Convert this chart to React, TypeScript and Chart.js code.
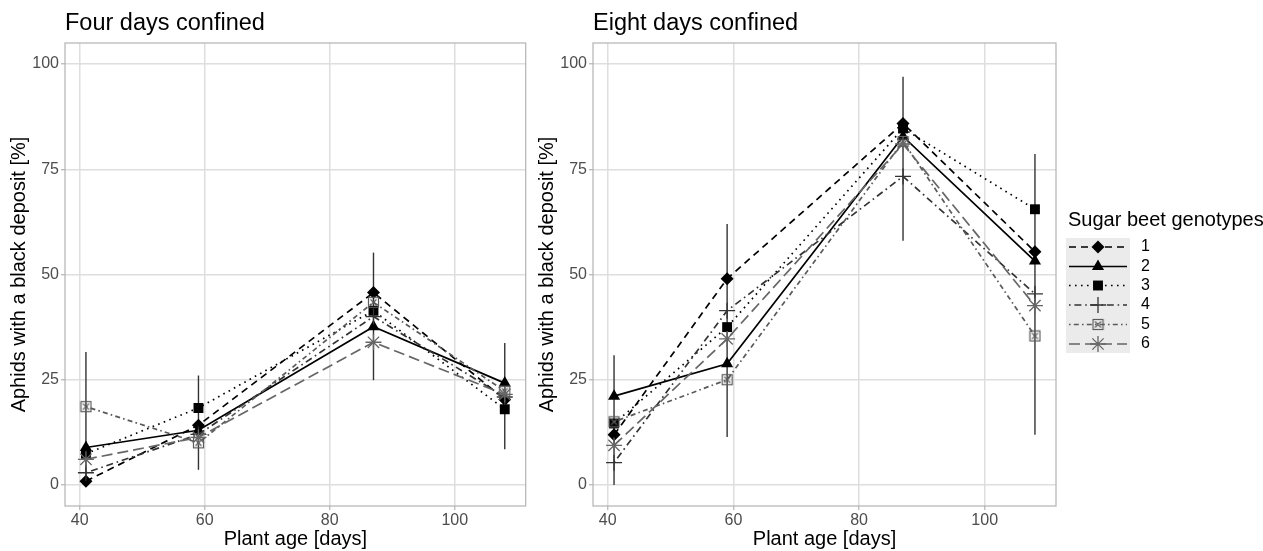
import React, { useEffect, useRef } from 'react';
import { Chart, registerables } from 'chart.js';
import { drawPoint } from 'chart.js/helpers';

Chart.register(...registerables);

// ---------- data ----------
const plantAge = [41, 59, 87, 108];
const xTicks = [40, 60, 80, 100];
const yTicks = [0, 25, 50, 75, 100];
const genotypes = ['1', '2', '3', '4', '5', '6'];

// Four days confined
const four1 = [0.9, 14.2, 45.7, 20.3];
const four2 = [8.9, 13.0, 37.6, 24.2];
const four3 = [7.4, 18.3, 41.4, 18.0];
const four4 = [2.9, 12.0, 40.0, 20.9];
const four5 = [18.6, 10.0, 43.4, 22.3];
const four6 = [6.1, 11.3, 33.9, 21.5];
const fourErrLow = [0, 3.6, 24.9, 8.5];
const fourErrHigh = [31.6, 26.0, 55.2, 33.7];

// Eight days confined
const eight1 = [11.9, 49.0, 85.9, 55.4];
const eight2 = [21.1, 28.8, 82.8, 53.2];
const eight3 = [14.6, 37.5, 84.7, 65.5];
const eight4 = [5.3, 41.4, 73.3, 45.4];
const eight5 = [15.0, 25.0, 81.6, 35.4];
const eight6 = [9.4, 34.7, 81.0, 42.6];
const eightErrLow = [0, 11.4, 58.0, 11.9];
const eightErrHigh = [30.8, 62.0, 97.0, 78.6];

// ---------- styles ----------
const FONT = "'Liberation Sans', Arial, Helvetica, sans-serif";
const lineColors = ['#000000', '#000000', '#000000', '#333333', '#5a5a5a', '#666666'];
const lineDashes: number[][] = [[7, 5], [], [1.6, 4.4], [1.6, 3.8, 7, 3.8], [1.6, 3.2, 5, 3.2], [11, 5]];
const pointKinds = ['rectRot', 'triangle', 'rect', 'cross', 'boxX', 'star'];
const pointRadii = [6.5, 7, 7, 8, 6, 8];

function makeBoxX(color: string): HTMLCanvasElement {
  const c = document.createElement('canvas');
  c.width = 13;
  c.height = 13;
  const g = c.getContext('2d')!;
  g.strokeStyle = color;
  g.lineWidth = 1.2;
  g.strokeRect(1.5, 1.5, 10, 10);
  g.beginPath();
  g.moveTo(3.5, 3.5);
  g.lineTo(9.5, 9.5);
  g.moveTo(9.5, 3.5);
  g.lineTo(3.5, 9.5);
  g.stroke();
  return c;
}

function pointStyleFor(i: number, boxX: HTMLCanvasElement): any {
  return pointKinds[i] === 'boxX' ? boxX : pointKinds[i];
}

function buildDatasets(series: number[][], boxX: HTMLCanvasElement) {
  return series.map((vals, i) => ({
    label: genotypes[i],
    order: series.length - i,
    data: vals.map((v, j) => ({ x: plantAge[j], y: v })),
    borderColor: lineColors[i],
    backgroundColor: lineColors[i],
    borderWidth: 1.7,
    borderDash: lineDashes[i],
    pointStyle: pointStyleFor(i, boxX),
    pointRadius: pointRadii[i],
    pointBackgroundColor: lineColors[i],
    pointBorderColor: lineColors[i],
    pointBorderWidth: pointKinds[i] === 'cross' || pointKinds[i] === 'star' ? 1.3 : 0,
    tension: 0,
    fill: false,
    showLine: true,
  }));
}

interface PanelProps {
  title: string;
  series: number[][];
  errLow: number[];
  errHigh: number[];
  width: number;
  left: number;
  rightPad: number;
  legend: boolean;
}

function Panel({ title, series, errLow, errHigh, width, left, rightPad, legend }: PanelProps) {
  const ref = useRef<HTMLCanvasElement | null>(null);

  useEffect(() => {
    const canvas = ref.current!;
    const boxX = makeBoxX('#5a5a5a');

    const framePlugin = {
      id: 'frame',
      beforeDatasetsDraw(chart: any) {
        const { ctx, chartArea, scales } = chart;
        ctx.save();
        ctx.strokeStyle = '#b3b3b3';
        ctx.lineWidth = 1.2;
        ctx.strokeRect(chartArea.left, chartArea.top, chartArea.right - chartArea.left, chartArea.bottom - chartArea.top);
        ctx.strokeStyle = '#333333';
        ctx.lineWidth = 1.4;
        plantAge.forEach((a, j) => {
          const x = scales.x.getPixelForValue(a);
          ctx.beginPath();
          ctx.moveTo(x, scales.y.getPixelForValue(errLow[j]));
          ctx.lineTo(x, scales.y.getPixelForValue(errHigh[j]));
          ctx.stroke();
        });
        ctx.restore();
      },
      afterDraw(chart: any) {
        const { ctx, chartArea } = chart;
        ctx.save();
        ctx.fillStyle = '#000';
        ctx.font = `23.5px ${FONT}`;
        ctx.textAlign = 'left';
        ctx.textBaseline = 'alphabetic';
        ctx.fillText(title, chartArea.left, 30);
        if (legend) {
          const lx = chartArea.right + 10;
          ctx.font = `20px ${FONT}`;
          ctx.textBaseline = 'middle';
          ctx.fillText('Sugar beet genotypes', lx + 2, 220);
          ctx.fillStyle = '#ebebeb';
          ctx.fillRect(lx, 238, 64, 115);
          const rowY = [247, 266.5, 285.5, 305, 324.5, 344];
          genotypes.forEach((g, i) => {
            const y = rowY[i];
            ctx.save();
            ctx.strokeStyle = lineColors[i];
            ctx.lineWidth = 1.7;
            ctx.setLineDash(lineDashes[i]);
            ctx.beginPath();
            ctx.moveTo(lx + 3, y);
            ctx.lineTo(lx + 61, y);
            ctx.stroke();
            ctx.setLineDash([]);
            ctx.fillStyle = lineColors[i];
            ctx.strokeStyle = lineColors[i];
            ctx.lineWidth = 1.3;
            drawPoint(ctx, {
              pointStyle: pointStyleFor(i, boxX),
              radius: pointRadii[i],
              rotation: 0,
              borderWidth: pointKinds[i] === 'cross' || pointKinds[i] === 'star' ? 1.3 : 0,
            } as any, lx + 32, y);
            ctx.restore();
            ctx.fillStyle = '#000';
            ctx.font = `16px ${FONT}`;
            ctx.textAlign = 'left';
            ctx.fillText(g, lx + 75, y);
          });
        }
        ctx.restore();
      },
    };

    const chart = new Chart(canvas, {
      type: 'line',
      data: { datasets: buildDatasets(series, boxX) as any },
      options: {
        animation: false,
        responsive: false,
        devicePixelRatio: 1,
        layout: { padding: { top: 43, right: rightPad, left: 0, bottom: 0 } },
        plugins: {
          legend: { display: false },
          tooltip: { enabled: false },
          title: { display: false },
        },
        scales: {
          x: {
            type: 'linear',
            min: 37.65,
            max: 111.35,
            afterBuildTicks: (s: any) => {
              s.ticks = xTicks.map((v) => ({ value: v }));
            },
            afterFit: (s: any) => {
              s.height = 45;
            },
            border: { display: false },
            grid: { color: '#dedede', lineWidth: 1.5, tickColor: '#b3b3b3', tickLength: 4, tickWidth: 1.2 },
            ticks: { font: { family: FONT, size: 16 }, color: '#4d4d4d', padding: 1, maxRotation: 0, autoSkip: false },
            title: {
              display: true,
              text: 'Plant age [days]',
              font: { family: FONT, size: 20 },
              color: '#000',
              padding: { top: 0, bottom: 0 },
            },
          },
          y: {
            type: 'linear',
            min: -5,
            max: 105,
            afterBuildTicks: (s: any) => {
              s.ticks = yTicks.map((v) => ({ value: v }));
            },
            afterFit: (s: any) => {
              s.width = 65;
            },
            border: { display: false },
            grid: { color: '#dedede', lineWidth: 1.5, tickColor: '#b3b3b3', tickLength: 4, tickWidth: 1.2 },
            ticks: { font: { family: FONT, size: 16 }, color: '#4d4d4d', padding: 2, autoSkip: false },
            title: {
              display: true,
              text: 'Aphids with a black deposit [%]',
              font: { family: FONT, size: 20 },
              color: '#000',
              padding: { top: 7, bottom: 0 },
            },
          },
        },
      } as any,
      plugins: [framePlugin],
    });
    return () => chart.destroy();
  }, []);

  return (
    <canvas
      ref={ref}
      width={width}
      height={551}
      style={{ position: 'absolute', left, top: 0, width, height: 551 }}
    />
  );
}

export default function App() {
  return (
    <div style={{ position: 'fixed', left: 0, top: 0, width: 1263, height: 551, background: '#fff' }}>
      <Panel
        title="Four days confined"
        series={[four1, four2, four3, four4, four5, four6]}
        errLow={fourErrLow}
        errHigh={fourErrHigh}
        width={535}
        left={0}
        rightPad={3}
        legend={false}
      />
      <Panel
        title="Eight days confined"
        series={[eight1, eight2, eight3, eight4, eight5, eight6]}
        errLow={eightErrLow}
        errHigh={eightErrHigh}
        width={735}
        left={528}
        rightPad={207}
        legend={true}
      />
    </div>
  );
}
